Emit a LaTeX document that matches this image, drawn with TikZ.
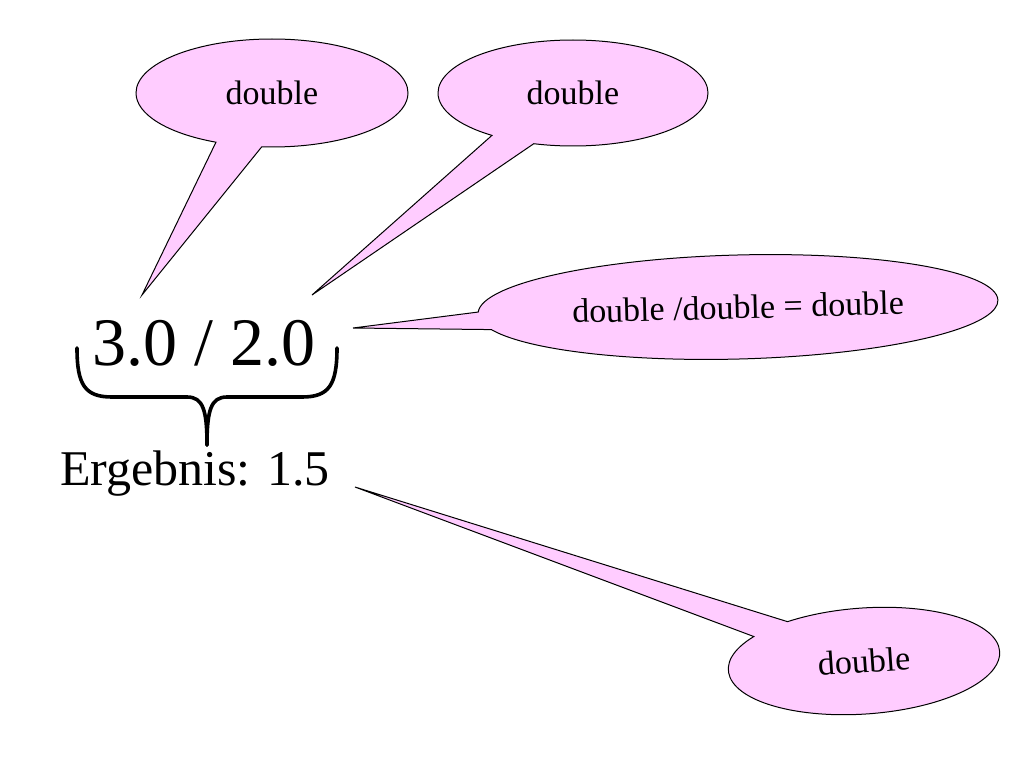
\documentclass[tikz,border=0pt]{standalone}
\usepackage{fontspec}
\setmainfont{Liberation Serif}
\usetikzlibrary{shapes.callouts}
\definecolor{bubble}{RGB}{255,204,255}
\begin{document}
\begin{tikzpicture}[x=1pt,y=-1pt,
  bubblebox/.style={ellipse callout, draw=black, line width=1pt, fill=bubble,
    callout pointer arc=20, inner sep=0pt, font=\fontsize{34}{40}\selectfont},
  mainlabel/.style={anchor=base, inner sep=0pt},
  bracepath/.style={line width=3.6pt, line cap=round, line join=round}]
\useasboundingbox (0,0) rectangle (1024,768);
\fill[white] (0,0) rectangle (1024,768);

% texts
\node[mainlabel, font=\fontsize{68}{80}\selectfont] (expr) at (204,365) {3.0 / 2.0};
\node[mainlabel, font=\fontsize{50}{60}\selectfont] (res) at (195,485) {Ergebnis: 1.5};

% pointer tips
\coordinate (p1) at (142,295);
\coordinate (p2) at (312,295);
\coordinate (p3) at (353,328);
\coordinate (p4) at (355,487);

% callouts
\node[bubblebox, minimum width=272pt, minimum height=108pt,
      callout absolute pointer={(p1)}] (b1) at (272,93) {double};
\node[bubblebox, minimum width=270pt, minimum height=106pt,
      callout absolute pointer={(p2)}] (b2) at (573,93) {double};
\node[bubblebox, minimum width=520pt, minimum height=104pt, rotate=1.5,
      callout absolute pointer={(p3)}] (b3) at (738,307) {double /double = double};
\node[bubblebox, minimum width=272pt, minimum height=106pt, rotate=4,
      callout absolute pointer={(p4)}] (b4) at (864,661) {double};

% brace under the expression
\coordinate (bl) at (77,348);
\coordinate (br) at (337,348);
\coordinate (bt) at (207,445);
\draw[bracepath] (bl) .. controls (77,385) and (85,397) .. (112,397)
  -- (187,397) .. controls (203,397) and (207,410) .. (bt);
\draw[bracepath] (br) .. controls (337,385) and (329,397) .. (302,397)
  -- (227,397) .. controls (211,397) and (207,410) .. (bt);
\end{tikzpicture}
\end{document}
